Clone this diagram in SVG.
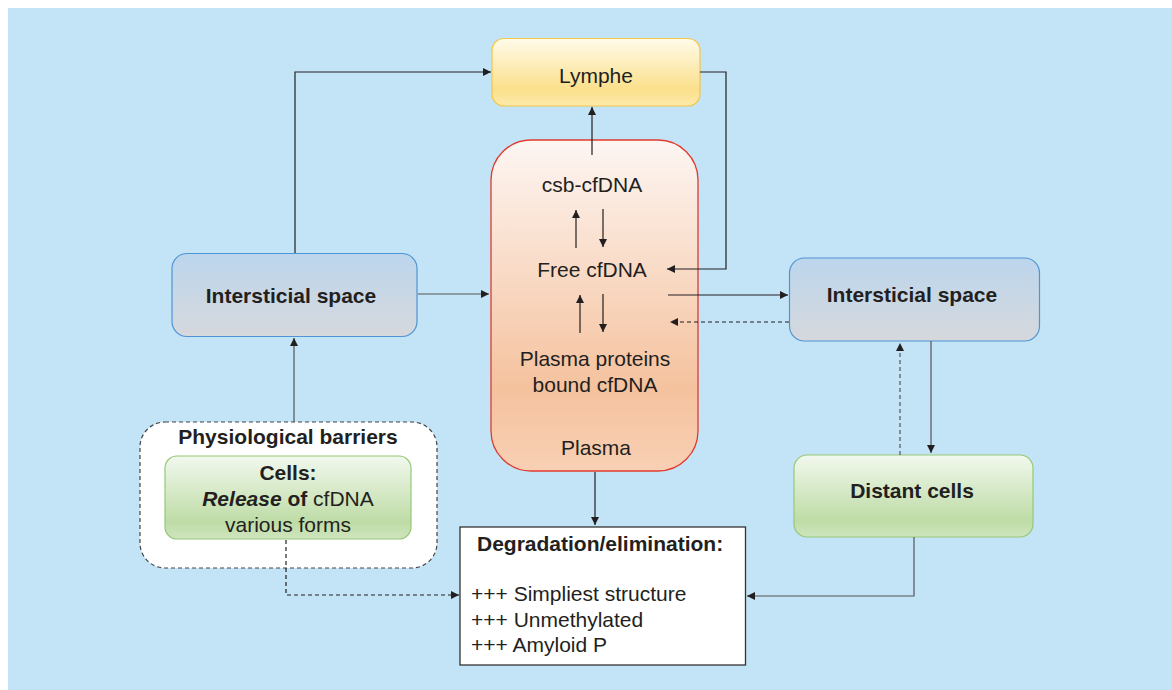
<svg xmlns="http://www.w3.org/2000/svg" width="1172" height="690" viewBox="0 0 1172 690">
<defs>
<style>
text{font-family:"Liberation Sans",Arial,Helvetica,sans-serif;font-size:21px;fill:#231f20}
.b{font-weight:bold}
.c{text-anchor:middle}
.ln{fill:none;stroke:#231f20;stroke-width:1.2}
.gr{stroke:#555}
.dash{stroke-dasharray:4 3}
</style>
<linearGradient id="gLym" x1="0" y1="0" x2="0" y2="1">
<stop offset="0" stop-color="#fffbea"/><stop offset="0.75" stop-color="#fbe08c"/><stop offset="1" stop-color="#fde9aa"/>
</linearGradient>
<linearGradient id="gPla" x1="0" y1="0" x2="0" y2="1">
<stop offset="0" stop-color="#fdf6f3"/><stop offset="0.75" stop-color="#f5c29e"/><stop offset="1" stop-color="#f8d0b4"/>
</linearGradient>
<linearGradient id="gInt" x1="0" y1="0" x2="0" y2="1">
<stop offset="0" stop-color="#bcd6ed"/><stop offset="1" stop-color="#d6d8dc"/>
</linearGradient>
<linearGradient id="gGrn" x1="0" y1="0" x2="0" y2="1">
<stop offset="0" stop-color="#f2f8ee"/><stop offset="0.8" stop-color="#bedca6"/><stop offset="1" stop-color="#cfe5be"/>
</linearGradient>
<marker id="ah" viewBox="0 0 10 10" refX="10" refY="5" markerWidth="8" markerHeight="8" markerUnits="userSpaceOnUse" orient="auto">
<path d="M0,0 L10,5 L0,10 z" fill="#231f20"/>
</marker>
</defs>
<rect x="8" y="8" width="1164" height="682" fill="#c2e4f6"/>

<g id="lymphe">
<rect x="492" y="38.5" width="208" height="67.5" rx="12" fill="url(#gLym)" stroke="#f4c64a" stroke-width="1.2"/>
<text class="c" x="596" y="83">Lymphe</text>
</g>

<g id="plasma">
<rect x="491" y="140" width="207" height="331" rx="40" fill="url(#gPla)" stroke="#e23a2e" stroke-width="1.3"/>
<text class="c" x="592" y="192">csb-cfDNA</text>
<text class="c" x="592" y="277">Free cfDNA</text>
<text class="c" x="595" y="366">Plasma proteins</text>
<text class="c" x="595" y="392">bound cfDNA</text>
<text class="c" x="596" y="455">Plasma</text>
</g>

<g id="interstitial-left">
<rect x="172" y="253.5" width="245" height="83" rx="15" fill="url(#gInt)" stroke="#4f94d4" stroke-width="1.2"/>
<text class="c b" x="291" y="303">Intersticial space</text>
</g>

<g id="interstitial-right">
<rect x="789.5" y="258" width="250" height="83" rx="15" fill="url(#gInt)" stroke="#4f94d4" stroke-width="1.2"/>
<text class="c b" x="912" y="302">Intersticial space</text>
</g>

<g id="barriers">
<rect x="140" y="422" width="297" height="146" rx="25" fill="#ffffff" stroke="#444" stroke-width="1.2" stroke-dasharray="4 3"/>
<text class="c b" x="288" y="444">Physiological barriers</text>
</g>

<g id="cells">
<rect x="165" y="456" width="246" height="83" rx="12" fill="url(#gGrn)" stroke="#95c878" stroke-width="1.2"/>
<text class="c b" x="288" y="480">Cells:</text>
<text class="c" x="288" y="506"><tspan font-weight="bold" font-style="italic">Release</tspan><tspan font-weight="bold"> of</tspan> cfDNA</text>
<text class="c" x="288" y="532">various forms</text>
</g>

<g id="distant-cells">
<rect x="794" y="455" width="239" height="82" rx="13" fill="url(#gGrn)" stroke="#95c878" stroke-width="1.2"/>
<text class="c b" x="912" y="498">Distant cells</text>
</g>

<g id="degradation">
<rect x="460" y="527" width="285.5" height="138" fill="#ffffff" stroke="#333" stroke-width="1.3"/>
<text class="b" x="477" y="551">Degradation/elimination:</text>
<text x="471" y="601">+++ Simpliest structure</text>
<text x="471" y="627">+++ Unmethylated</text>
<text x="471" y="652">+++ Amyloid P</text>
</g>

<g id="connectors">
<path class="ln" d="M592,155 V107" marker-end="url(#ah)"/>
<path class="ln" d="M700,72 H726 V269 H667" marker-end="url(#ah)"/>
<path class="ln" d="M576,248 V210" marker-end="url(#ah)"/>
<path class="ln" d="M603,209 V247" marker-end="url(#ah)"/>
<path class="ln" d="M580,333 V295" marker-end="url(#ah)"/>
<path class="ln" d="M603,294 V332" marker-end="url(#ah)"/>
<path class="ln" d="M668,295 H788" marker-end="url(#ah)"/>
<path class="ln dash" d="M789,322 H670" marker-end="url(#ah)"/>
<path class="ln gr" d="M418,294 H489" marker-end="url(#ah)"/>
<path class="ln" d="M295,253 V72 H491" marker-end="url(#ah)"/>
<path class="ln gr" d="M294,422 V338" marker-end="url(#ah)"/>
<path class="ln dash" d="M286,540 V595 H459" marker-end="url(#ah)"/>
<path class="ln" d="M595,472 V525" marker-end="url(#ah)"/>
<path class="ln gr" d="M931,341 V453" marker-end="url(#ah)"/>
<path class="ln gr dash" d="M900,455 V343" marker-end="url(#ah)"/>
<path class="ln gr" d="M914,537 V596 H747" marker-end="url(#ah)"/>
</g>
</svg>
